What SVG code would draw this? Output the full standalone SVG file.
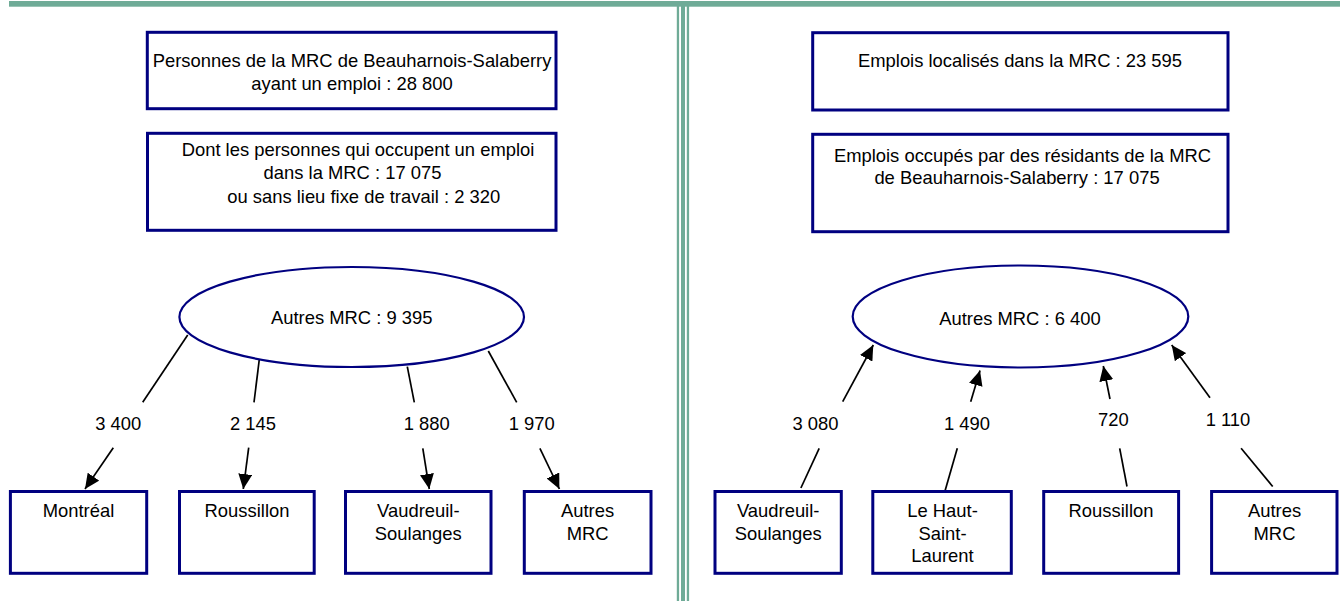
<svg xmlns="http://www.w3.org/2000/svg" width="1340" height="601" viewBox="0 0 1340 601">
<style>
.box{fill:#fff;stroke:#000080;stroke-width:3}
.ell{fill:#fff;stroke:#000080;stroke-width:2.2}
.t{font-family:"Liberation Sans",Arial,sans-serif;font-size:18.4px;fill:#000;text-anchor:middle}
.ln{stroke:#000;stroke-width:1.7;fill:none}
.ar{stroke:#000;stroke-width:1.7;fill:none;marker-end:url(#ah)}
.deco{fill:#6FAB97}
</style>
<defs>
<marker id="ah" viewBox="0 0 15 14" refX="15" refY="7" markerWidth="15" markerHeight="14" markerUnits="userSpaceOnUse" orient="auto">
<path d="M0,0 L15,7 L0,14 z" fill="#000"/>
</marker>
</defs>
<rect x="0" y="0" width="1340" height="601" fill="#fff"/>
<g id="frame">
<rect class="deco" x="9" y="1" width="1331" height="5.7"/>
<rect class="deco" x="676.8" y="6" width="2.3" height="595"/>
<rect class="deco" x="681" y="6" width="4" height="595"/>
<rect class="deco" x="686.8" y="6" width="2.3" height="595"/>
</g>

<g id="connectors">
<line class="ln" x1="187.7" y1="335" x2="142.7" y2="402.3"/>
<text class="t" x="118.3" y="430">3 400</text>
<line class="ar" x1="113.3" y1="447.7" x2="85" y2="489"/>
<line class="ln" x1="259.3" y1="359.3" x2="254" y2="402.3"/>
<text class="t" x="253" y="430">2 145</text>
<line class="ar" x1="248.7" y1="447.7" x2="243.3" y2="489"/>
<line class="ln" x1="407.3" y1="366.7" x2="414.3" y2="402.3"/>
<text class="t" x="426.7" y="430">1 880</text>
<line class="ar" x1="422.8" y1="448.3" x2="429.3" y2="489"/>
<line class="ln" x1="488.3" y1="351" x2="516.7" y2="402.3"/>
<text class="t" x="531.7" y="430">1 970</text>
<line class="ar" x1="539.9" y1="448.3" x2="559.4" y2="489"/>

<line class="ln" x1="800.9" y1="488" x2="819.2" y2="448.3"/>
<text class="t" x="815.5" y="430">3 080</text>
<line class="ar" x1="842.7" y1="401.7" x2="873.3" y2="345"/>
<line class="ln" x1="945" y1="491" x2="957.3" y2="448.3"/>
<text class="t" x="967" y="430">1 490</text>
<line class="ar" x1="970.7" y1="401.7" x2="980" y2="370.5"/>
<line class="ln" x1="1127" y1="486.5" x2="1119.7" y2="448.3"/>
<text class="t" x="1113.3" y="426">720</text>
<line class="ar" x1="1110" y1="399" x2="1103.3" y2="366"/>
<line class="ln" x1="1272.7" y1="486.5" x2="1241.1" y2="448.3"/>
<text class="t" x="1228" y="426">1 110</text>
<line class="ar" x1="1210" y1="397.7" x2="1171.7" y2="345"/>
</g>

<g id="left-total">
<rect class="box" x="147.3" y="32.3" width="408.7" height="76.4"/>
<text class="t" x="352" y="66.7">Personnes de la MRC de Beauharnois-Salaberry</text>
<text class="t" x="352" y="90">ayant un emploi : 28 800</text>
</g>
<g id="left-local">
<rect class="box" x="147.5" y="133.3" width="408.5" height="97"/>
<text class="t" x="358" y="156">Dont les personnes qui occupent un emploi</text>
<text class="t" x="352.5" y="179.3">dans la MRC : 17 075</text>
<text class="t" x="363.7" y="202.7">ou sans lieu fixe de travail : 2 320</text>
</g>
<g id="left-autres">
<ellipse class="ell" cx="351.7" cy="317" rx="172.3" ry="50"/>
<text class="t" x="351.7" y="324">Autres MRC : 9 395</text>
</g>
<g id="left-montreal">
<rect class="box" x="10.4" y="491.5" width="136.3" height="81.8"/>
<text class="t" x="78.5" y="517.3">Montréal</text>
</g>
<g id="left-roussillon">
<rect class="box" x="179.5" y="491.5" width="134.7" height="81.8"/>
<text class="t" x="247" y="517.3">Roussillon</text>
</g>
<g id="left-vaudreuil">
<rect class="box" x="345.5" y="491.5" width="145.5" height="81.8"/>
<text class="t" x="418.3" y="517.3">Vaudreuil-</text>
<text class="t" x="418.3" y="539.5">Soulanges</text>
</g>
<g id="left-autres-mrc">
<rect class="box" x="524.3" y="491.5" width="126.7" height="81.8"/>
<text class="t" x="587.6" y="517.3">Autres</text>
<text class="t" x="587.6" y="539.5">MRC</text>
</g>

<g id="right-total">
<rect class="box" x="812.7" y="32.7" width="415.3" height="77.3"/>
<text class="t" x="1020" y="66.7">Emplois localisés dans la MRC : 23 595</text>
</g>
<g id="right-local">
<rect class="box" x="812.7" y="134.3" width="415.3" height="97.4"/>
<text class="t" x="1022.5" y="161.7">Emplois occupés par des résidants de la MRC</text>
<text class="t" x="1017" y="184">de Beauharnois-Salaberry : 17 075</text>
</g>
<g id="right-autres">
<ellipse class="ell" cx="1020.5" cy="316.5" rx="167.8" ry="51"/>
<text class="t" x="1020" y="325">Autres MRC : 6 400</text>
</g>
<g id="right-vaudreuil">
<rect class="box" x="715" y="491.5" width="126.3" height="81.8"/>
<text class="t" x="778.2" y="517.3">Vaudreuil-</text>
<text class="t" x="778.2" y="539.5">Soulanges</text>
</g>
<g id="right-haut-saint-laurent">
<rect class="box" x="872.8" y="491.5" width="138.5" height="81.8"/>
<text class="t" x="942.5" y="517.3">Le Haut-</text>
<text class="t" x="942.5" y="539.5">Saint-</text>
<text class="t" x="942.5" y="561.5">Laurent</text>
</g>
<g id="right-roussillon">
<rect class="box" x="1043.7" y="491.5" width="134.9" height="81.8"/>
<text class="t" x="1111" y="517.3">Roussillon</text>
</g>
<g id="right-autres-mrc">
<rect class="box" x="1211.6" y="491.5" width="125.4" height="81.8"/>
<text class="t" x="1274.5" y="517.3">Autres</text>
<text class="t" x="1274.5" y="539.5">MRC</text>
</g>
</svg>
